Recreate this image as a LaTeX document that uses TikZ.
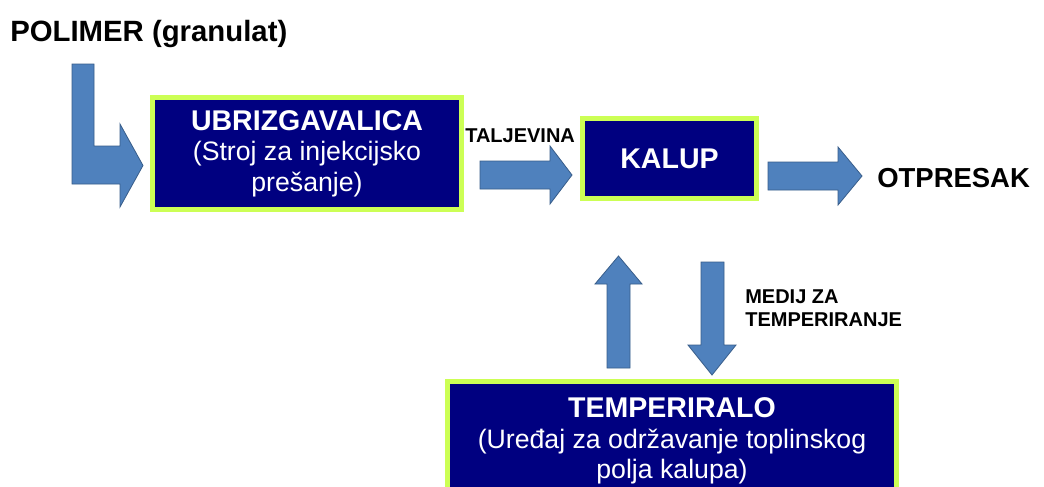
\documentclass[tikz,border=0pt]{standalone}
\usepackage{fontspec}
\setmainfont{Liberation Sans}
\definecolor{boxblue}{RGB}{0,0,128}
\definecolor{boxgreen}{RGB}{204,255,85}
\definecolor{arrowblue}{RGB}{79,129,189}
\definecolor{arrowline}{RGB}{56,93,138}
\tikzset{
machine/.style={draw=boxgreen, line width=4pt, fill=boxblue, text=white,
  align=center, inner sep=0pt, font=\fontsize{20}{23}\selectfont},
fatarrow/.style={fill=arrowblue, draw=arrowline, line width=0.6pt},
flowtext/.style={anchor=base west, inner sep=0pt, font=\bfseries\fontsize{15}{17.25}\selectfont}
}
\newcommand{\boxtitle}[1]{{\bfseries\fontsize{21.4}{23}\selectfont #1}}

\begin{document}
\begin{tikzpicture}[x=0.75pt,y=-0.75pt]
\useasboundingbox (0,0) rectangle (1044,486);
\clip (0,0) rectangle (1044,486);
\fill[white] (0,0) rectangle (1044,486);
% boxes
\node[machine, minimum width=231.4pt, minimum height=83.6pt] (ubr) at (307,153.5)
{\boxtitle{UBRIZGAVALICA}\\(Stroj za injekcijsko\\prešanje)};
\node[machine, minimum width=130.1pt, minimum height=59.6pt] (kalup) at (669.5,158.5)
{\boxtitle{KALUP}};
\node[machine, minimum width=336.4pt, minimum height=88.9pt] (temp) at (672,441)
{\boxtitle{TEMPERIRALO}\\(Uređaj za održavanje toplinskog\\polja kalupa)};
% texts
\node[anchor=base west, inner sep=0pt, font=\bfseries\fontsize{22}{24}\selectfont] (polimer) at (10,41) {POLIMER (granulat)};
\node[flowtext] (taljevina) at (465,142) {TALJEVINA};
\node[anchor=base west, inner sep=0pt, font=\bfseries\fontsize{20.6}{22}\selectfont] (otpresak) at (877,187) {OTPRESAK};
\node[flowtext, align=left] (medij) at (745,326) {MEDIJ ZA\\TEMPERIRANJE};
% arrows
\draw[fatarrow] (72,64) -- (94,64) -- (94,146) -- (120,146) -- (120,124) -- (143,165.5) -- (120,207) -- (120,184) -- (72,184) -- cycle;
\draw[fatarrow] (480,161) -- (550,161) -- (550,146) -- (572,175) -- (550,204) -- (550,189) -- (480,189) -- cycle;
\draw[fatarrow] (768,162) -- (838,162) -- (838,147) -- (862,176) -- (838,205) -- (838,190) -- (768,190) -- cycle;
\draw[fatarrow] (607,368) -- (607,284) -- (595,284) -- (618.5,256) -- (642,284) -- (630,284) -- (630,368) -- cycle;
\draw[fatarrow] (701,262) -- (701,345) -- (688,345) -- (712,375) -- (736,345) -- (724,345) -- (724,262) -- cycle;
\end{tikzpicture}
\end{document}
